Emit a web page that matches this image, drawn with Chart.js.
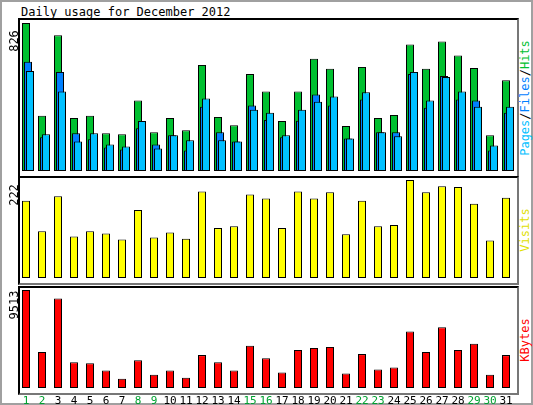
<!DOCTYPE html>
<html>
<head>
<meta charset="utf-8">
<script src="https://cdn.jsdelivr.net/npm/chart.js@4"></script>
<style>
  body { margin: 0; background: #fff; }
  #wrap { position: relative; width: 533px; height: 405px; box-sizing: border-box;
          border: 2px solid #a0a0a0; background: #fff; font-family: "DejaVu Sans Mono", monospace; }
  .frame { position: absolute; box-sizing: border-box; border: 2px solid #000;
           border-right-color: #777; border-bottom-color: #777; background: #fff; }
  .cv { position: absolute; }
  .rot { position: absolute; transform: rotate(-90deg); transform-origin: center; white-space: nowrap;
         font-size: 12px; text-align: center; }
  .day { position: absolute; top: 392px; font-size: 11px; transform: translateX(-50%); }
  #title { position: absolute; left: 19px; top: 3px; font-size: 12px; }
</style>
</head>
<body>
<div id="wrap">
  <div id="title">Daily usage for December 2012</div>
  <div class="frame" style="left:16px;top:16px;width:501px;height:160px"></div>
  <div class="frame" style="left:16px;top:174px;width:501px;height:109px"></div>
  <div class="frame" style="left:16px;top:284px;width:501px;height:109px"></div>
  <canvas id="c1" class="cv" style="left:18px;top:21px;width:496px;height:148px"></canvas>
  <canvas id="c2" class="cv" style="left:18px;top:178px;width:496px;height:98px"></canvas>
  <canvas id="c3" class="cv" style="left:18px;top:288px;width:496px;height:98px"></canvas>
  <div class="rot" style="left:-8px;top:32px;width:40px">826</div>
  <div class="rot" style="left:-8px;top:186px;width:40px">222</div>
  <div class="rot" style="left:-8px;top:296px;width:40px">9513</div>
  <div class="rot" style="left:463px;top:89px;width:120px"><span style="color:#00c0ff">Pages</span>/<span style="color:#0080ff">Files</span>/<span style="color:#00c030">Hits</span></div>
  <div class="rot" style="left:493px;top:221px;width:60px;color:#e0e000">Visits</div>
  <div class="rot" style="left:493px;top:331px;width:60px;color:#ff0000">KBytes</div>
  <div id="days"></div>
</div>
<script>
const days = ['1','2','3','4','5','6','7','8','9','10','11','12','13','14','15','16','17','18','19','20','21','22','23','24','25','26','27','28','29','30','31'];
const weekendDays = ['1','2','8','9','15','16','22','23','29','30'];
const hits = [826,308,758,296,308,211,205,393,216,296,228,592,302,256,541,444,279,444,627,570,251,581,296,313,706,570,723,644,575,199,507];
const files = [610,188,553,211,177,131,120,239,148,199,114,359,216,165,365,285,188,281,427,365,182,399,216,216,541,353,530,399,393,114,325];
const pages = [558,205,444,165,211,148,137,279,125,199,171,404,171,165,342,325,199,342,387,416,182,439,216,194,553,393,524,444,359,142,359];
const visits = [175,106,185,94,106,101,87,154,92,103,89,196,113,117,189,180,113,196,180,194,99,175,117,120,222,194,208,206,168,85,182];
const kbytes = [9513,3492,8681,2495,2395,1696,898,2694,1297,1696,998,3193,2495,1696,4091,2894,1497,3692,3891,3991,1397,3293,1796,1996,5488,3492,5887,3692,4291,1297,3193];

// shift each dataset sideways so the bars overlap like the original
const shiftPlugin = {
    id: 'shift',
    beforeDatasetDraw(chart, args) {
        const shifts = chart.options.plugins.shift.offsets;
        chart.ctx.save();
        chart.ctx.translate(shifts[args.index] || 0, 0);
    },
    afterDatasetDraw(chart) { chart.ctx.restore(); }
};

function bar(data, color, order) {
    return { data: data, backgroundColor: color, borderColor: '#000', borderWidth: 1,
             borderSkipped: false, order: order, clip: false,
             barPercentage: 0.5, categoryPercentage: 1, grouped: false };
}

function makeChart(id, datasets, max, offsets) {
    return new Chart(document.getElementById(id), {
        type: 'bar',
        data: { labels: days, datasets: datasets },
        options: {
            responsive: false, animation: false, maintainAspectRatio: false,
            layout: { padding: 0 },
            plugins: { legend: { display: false }, tooltip: { enabled: false }, shift: { offsets: offsets } },
            scales: {
                x: { display: false, offset: true },
                y: { display: false, min: 0, max: max }
            }
        },
        plugins: [shiftPlugin]
    });
}

function sizeCanvas(id) {
    const c = document.getElementById(id);
    c.width = parseFloat(c.style.width); c.height = parseFloat(c.style.height);
}
['c1', 'c2', 'c3'].forEach(sizeCanvas);

makeChart('c1', [bar(hits, '#00c030', 3), bar(files, '#0080ff', 2), bar(pages, '#00c0ff', 1)], 826, [-2, 0, 2]);
makeChart('c2', [bar(visits, '#ffff00', 1)], 222, [-2]);
const kChart = makeChart('c3', [bar(kbytes, '#ff0000', 1)], 9513, [-2]);

// day labels under the bottom panel, placed with the chart's own x scale
const dayBox = document.getElementById('days');
days.forEach((d, i) => {
    const s = document.createElement('span');
    s.className = 'day';
    s.textContent = d;
    s.style.left = (16 + kChart.scales.x.getPixelForValue(i)) + 'px';
    s.style.color = weekendDays.includes(d) ? '#00a030' : '#000';
    dayBox.appendChild(s);
});
</script>
</body>
</html>
